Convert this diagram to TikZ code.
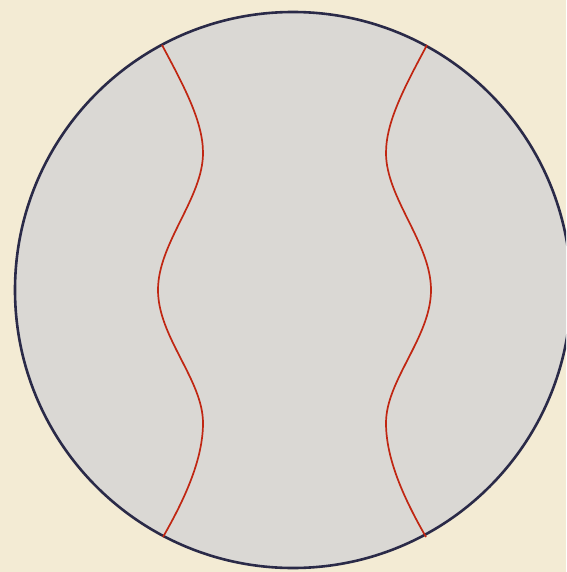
\documentclass[tikz,border=0pt]{standalone}
\definecolor{bgbeige}{RGB}{243,235,212}
\definecolor{diskgray}{RGB}{218,216,212}
\definecolor{rimnavy}{RGB}{42,42,72}
\definecolor{curvered}{RGB}{192,38,18}
\tikzset{
  rim/.style={draw=rimnavy,line width=2.6pt,fill=diskgray},
  geod/.style={draw=curvered,line width=1.7pt}
}
\begin{document}
\begin{tikzpicture}[x=1pt,y=-1pt]
\fill[bgbeige] (0,0) rectangle (566,572);
\useasboundingbox (0,0) rectangle (566,572);
\begin{scope}
\clip (0,0) rectangle (566,572);
\path[rim] (293,290) circle[radius=278];
\end{scope}
\draw[geod] (162,45) .. controls (185,88) and (203,122) .. (203,153)
  .. controls (203,198) and (158,243) .. (158,290)
  .. controls (158,337) and (203,380) .. (203,423)
  .. controls (203,458) and (186,497) .. (163,537);
\draw[geod] (427,45) .. controls (404,88) and (386,122) .. (386,153)
  .. controls (386,198) and (431,243) .. (431,290)
  .. controls (431,337) and (386,380) .. (386,423)
  .. controls (386,458) and (403,497) .. (426,537);
\end{tikzpicture}
\end{document}
